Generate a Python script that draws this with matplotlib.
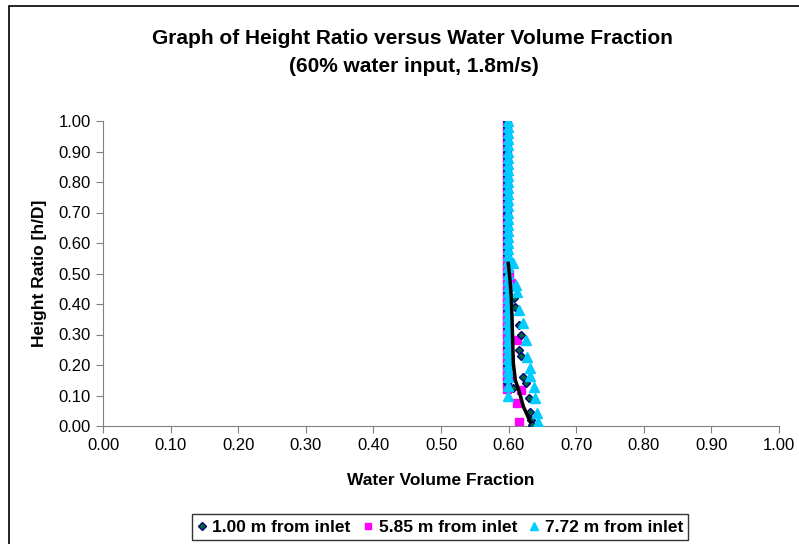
import matplotlib.pyplot as plt
from matplotlib.patches import Rectangle

plt.rcParams['font.family'] = ['Liberation Sans', 'DejaVu Sans']

# 1.00 m from inlet (diamonds)
x1 = [0.598, 0.598, 0.598, 0.598, 0.598, 0.598, 0.598, 0.598, 0.598, 0.598,
      0.598, 0.598, 0.598, 0.598, 0.598, 0.598, 0.598, 0.598, 0.598, 0.598,
      0.598, 0.598, 0.598, 0.597, 0.597, 0.597, 0.597, 0.597, 0.597, 0.597,
      0.608, 0.609, 0.616, 0.618, 0.616, 0.619, 0.607, 0.622, 0.625, 0.630,
      0.631, 0.633, 0.634]
h1 = [1.00, 0.98, 0.96, 0.94, 0.92, 0.90, 0.88, 0.86, 0.84, 0.82,
      0.80, 0.78, 0.76, 0.74, 0.72, 0.70, 0.68, 0.66, 0.64, 0.62,
      0.60, 0.58, 0.56, 0.50, 0.44, 0.38, 0.32, 0.26, 0.20, 0.14,
      0.419, 0.391, 0.331, 0.298, 0.249, 0.230, 0.125, 0.162, 0.140, 0.091,
      0.047, 0.020, 0.003]

# 5.85 m from inlet (squares)
x2 = [0.597, 0.597, 0.597, 0.597, 0.597, 0.597, 0.597, 0.597, 0.597, 0.597,
      0.597, 0.597, 0.597, 0.597, 0.597, 0.597, 0.597, 0.597, 0.597, 0.597,
      0.597, 0.597, 0.597, 0.597, 0.597, 0.597, 0.597, 0.597, 0.597, 0.597,
      0.597, 0.597, 0.597, 0.597, 0.597, 0.597, 0.597, 0.597, 0.597, 0.597,
      0.597, 0.597, 0.597, 0.597, 0.597,
      0.600, 0.604, 0.612, 0.602, 0.619, 0.612, 0.616]
h2 = [1.00, 0.98, 0.96, 0.94, 0.92, 0.90, 0.88, 0.86, 0.84, 0.82,
      0.80, 0.78, 0.76, 0.74, 0.72, 0.70, 0.68, 0.66, 0.64, 0.62,
      0.60, 0.58, 0.56, 0.54, 0.52, 0.50, 0.48, 0.46, 0.44, 0.42,
      0.40, 0.38, 0.36, 0.34, 0.32, 0.30, 0.28, 0.26, 0.24, 0.22,
      0.20, 0.18, 0.16, 0.14, 0.12,
      0.500, 0.470, 0.282, 0.160, 0.118, 0.074, 0.012]

# 7.72 m from inlet (triangles)
x3 = [0.599, 0.599, 0.599, 0.599, 0.599, 0.599, 0.599, 0.599, 0.599, 0.599,
      0.599, 0.599, 0.599, 0.599, 0.599, 0.599, 0.599, 0.599, 0.599, 0.599,
      0.599, 0.599, 0.599, 0.599, 0.599, 0.599, 0.599, 0.599, 0.599, 0.599,
      0.599, 0.599, 0.599, 0.599, 0.599, 0.599, 0.599, 0.599, 0.599, 0.599,
      0.599, 0.599, 0.599, 0.599, 0.599,
      0.607, 0.611, 0.612, 0.616, 0.621, 0.626, 0.627, 0.632, 0.631, 0.637,
      0.639, 0.642, 0.644]
h3 = [1.00, 0.98, 0.96, 0.94, 0.92, 0.90, 0.88, 0.86, 0.84, 0.82,
      0.80, 0.78, 0.76, 0.74, 0.72, 0.70, 0.68, 0.66, 0.64, 0.62,
      0.60, 0.58, 0.56, 0.54, 0.52, 0.50, 0.48, 0.46, 0.44, 0.42,
      0.40, 0.38, 0.36, 0.34, 0.32, 0.30, 0.28, 0.26, 0.24, 0.22,
      0.20, 0.18, 0.16, 0.13, 0.10,
      0.533, 0.462, 0.440, 0.380, 0.339, 0.282, 0.227, 0.189, 0.164, 0.129,
      0.091, 0.042, 0.014]

# black curve
xc = [0.5995, 0.602, 0.604, 0.605, 0.606, 0.607, 0.610, 0.615, 0.622, 0.632]
hc = [0.533, 0.480, 0.420, 0.358, 0.280, 0.206, 0.150, 0.118, 0.063, 0.014]

ticks = [i / 10 for i in range(11)]

fig = plt.figure(figsize=(7.99, 5.44), dpi=100)
ax = fig.add_axes([103 / 799, 1 - 426 / 544, 676 / 799, 305 / 544])

ax.plot(x1, h1, linestyle='none', marker='D', markersize=4.3,
        markerfacecolor='#006633', markeredgecolor='#000080', markeredgewidth=1,
        label='1.00 m from inlet', zorder=3)
ax.plot(x2, h2, linestyle='none', marker='s', markersize=5.5,
        markerfacecolor='#FF00FF', markeredgecolor='#FF00FF',
        label='5.85 m from inlet', zorder=2)
ax.plot(x3, h3, linestyle='none', marker='^', markersize=7,
        markerfacecolor='#00CCFF', markeredgecolor='#00CCFF',
        label='7.72 m from inlet', zorder=4)
ax.plot(xc, hc, color='black', linewidth=2.5, zorder=5)

ax.set_xlim(0, 1)
ax.set_ylim(0, 1)
ax.set_xticks(ticks)
ax.set_yticks(ticks)
ax.set_xticklabels(['%.2f' % t for t in ticks], fontsize=12)
ax.set_yticklabels(['%.2f' % t for t in ticks], fontsize=12)
ax.tick_params(direction='out', length=5, color='#808080', pad=4)
for s in ['top', 'right']:
    ax.spines[s].set_visible(False)
for s in ['left', 'bottom']:
    ax.spines[s].set_color('#808080')

ax.set_xlabel('Water Volume Fraction', fontsize=12.5, fontweight='bold', labelpad=14)
ax.set_ylabel('Height Ratio [h/D]', fontsize=12.5, fontweight='bold', labelpad=8)

fig.text(412 / 799, 1 - 38 / 544, 'Graph of Height Ratio versus Water Volume Fraction',
         ha='center', va='center', fontsize=15, fontweight='bold')
fig.text(414 / 799, 1 - 66 / 544, '(60% water input, 1.8m/s)',
         ha='center', va='center', fontsize=15, fontweight='bold')

leg = ax.legend(loc='center', bbox_to_anchor=(440 / 799, 1 - 527 / 544),
                bbox_transform=fig.transFigure, ncol=3, frameon=True,
                fancybox=False, edgecolor='black',
                prop={'weight': 'bold', 'size': 12.5},
                handlelength=0.6, handletextpad=0.3, columnspacing=0.7,
                borderpad=0.3, borderaxespad=0, markerscale=0.85)
leg.get_frame().set_linewidth(1)

fig.patches.append(Rectangle((9 / 799, -0.1), 1.2, 1 - 6 / 544 + 0.1,
                             transform=fig.transFigure, fill=False,
                             edgecolor='black', linewidth=1.2))

fig.savefig('out.png', dpi=100)
